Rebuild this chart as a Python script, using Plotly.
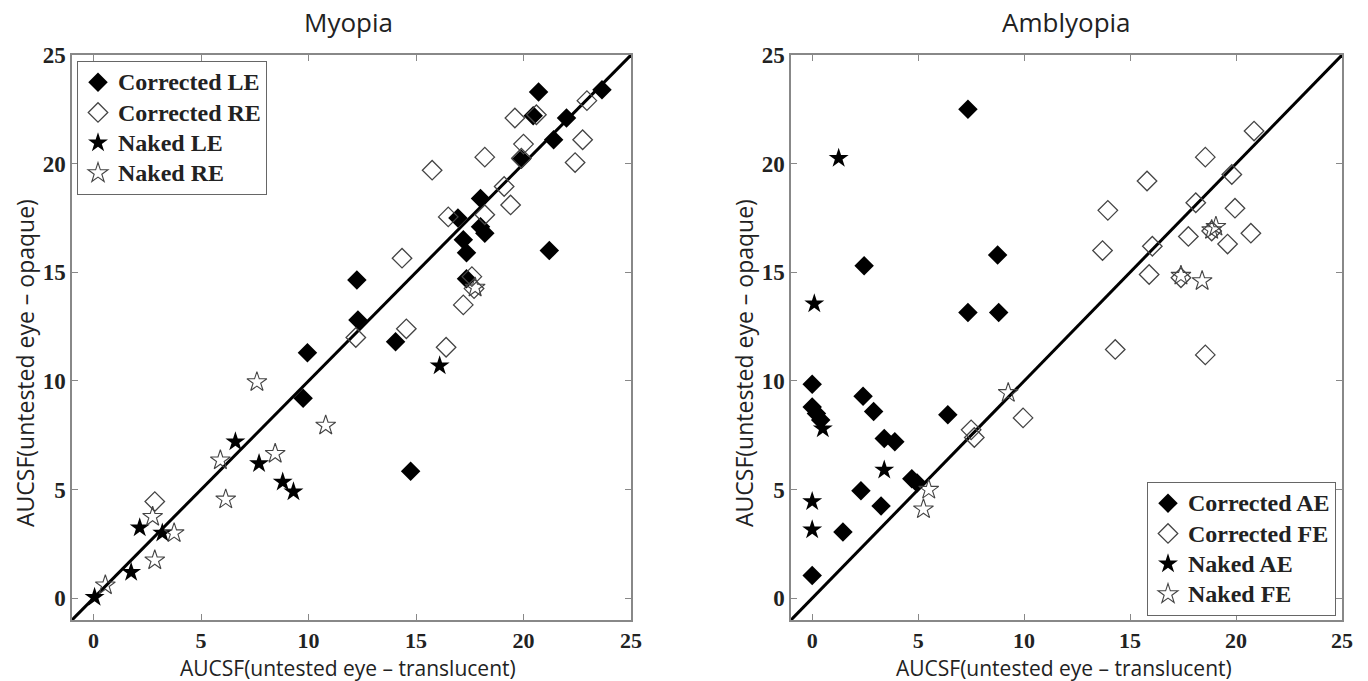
import plotly.graph_objects as go

# ---------------- Myopia (left) ----------------
my_corr_le_x = [20.7, 23.65, 20.45, 22.0, 21.4, 19.9, 18.0, 16.95, 18.0, 18.2, 17.2, 17.35, 21.2, 17.35, 12.25, 12.3, 9.95, 9.75, 14.05, 14.75]
my_corr_le_y = [23.3, 23.4, 22.2, 22.1, 21.1, 20.2, 18.4, 17.5, 17.1, 16.8, 16.5, 15.9, 16.0, 14.7, 14.65, 12.8, 11.3, 9.2, 11.8, 5.85]

my_corr_re_x = [22.95, 19.6, 20.6, 22.75, 22.4, 20.0, 18.2, 15.75, 19.9, 19.1, 19.4, 16.5, 18.2, 14.35, 17.6, 17.7, 17.2, 14.55, 12.2, 16.4, 2.85]
my_corr_re_y = [22.9, 22.1, 22.25, 21.1, 20.05, 20.9, 20.3, 19.7, 20.25, 18.95, 18.1, 17.55, 17.65, 15.65, 14.8, 14.25, 13.5, 12.4, 12.0, 11.55, 4.45]

my_naked_le_x = [0.05, 1.75, 2.15, 3.2, 6.6, 7.7, 8.8, 9.3, 16.1]
my_naked_le_y = [0.05, 1.2, 3.25, 3.0, 7.2, 6.2, 5.35, 4.9, 10.7]

my_naked_re_x = [0.55, 2.75, 2.85, 3.75, 5.9, 6.15, 8.45, 10.8, 7.6, 17.75]
my_naked_re_y = [0.6, 3.75, 1.75, 3.0, 6.35, 4.55, 6.65, 7.95, 9.95, 14.3]

# ---------------- Amblyopia (right) ----------------
am_corr_ae_x = [7.35, 2.45, 8.75, 7.35, 8.8, 0.0, 0.0, 0.2, 0.4, 2.4, 2.9, 3.4, 3.9, 6.4, 4.7, 4.95, 2.3, 3.25, 1.45, 0.0]
am_corr_ae_y = [22.5, 15.3, 15.8, 13.15, 13.15, 9.85, 8.8, 8.5, 8.2, 9.3, 8.6, 7.35, 7.2, 8.45, 5.5, 5.3, 4.95, 4.25, 3.05, 1.05]

am_corr_fe_x = [20.85, 18.55, 19.8, 15.8, 13.95, 18.1, 19.95, 13.7, 16.05, 17.75, 18.85, 19.6, 20.7, 15.9, 17.4, 14.3, 18.55, 7.5, 7.65, 9.95]
am_corr_fe_y = [21.5, 20.3, 19.5, 19.2, 17.85, 18.2, 17.95, 16.0, 16.2, 16.65, 16.9, 16.3, 16.8, 14.9, 14.75, 11.45, 11.2, 7.75, 7.4, 8.3]

am_naked_ae_x = [1.25, 0.1, 0.5, 3.4, 0.0, 0.0]
am_naked_ae_y = [20.25, 13.55, 7.8, 5.9, 4.45, 3.15]

am_naked_fe_x = [9.25, 5.5, 5.25, 19.05, 18.85, 17.4, 18.4]
am_naked_fe_y = [9.45, 5.0, 4.1, 17.1, 16.95, 14.85, 14.6]

identity = [-1, 25]
tick_vals = [0, 5, 10, 15, 20, 25]
titles = ["Myopia", "Amblyopia"]
x_title = "AUCSF(untested eye \u2013 translucent)"
y_title = "AUCSF(untested eye \u2013 opaque)"

W, H = 1368, 681
SERIF = "Liberation Serif"
SANS = "Open Sans"

fig = go.Figure()

def add_identity(xa, ya):
    fig.add_trace(go.Scatter(x=identity, y=identity, mode="lines",
                             line=dict(color="black", width=3),
                             showlegend=False, hoverinfo="skip",
                             xaxis=xa, yaxis=ya))

def legend_name(s):
    return "<span style='font-size:24px'>" + s + "</span>"

filled_d = dict(symbol="diamond", size=15, color="black", line=dict(width=0))
open_d = dict(symbol="diamond-open", size=15, color="#444444", line=dict(width=1.3, color="#444444"))
filled_s = dict(symbol="star", size=15, color="black", line=dict(width=0))
open_s = dict(symbol="star-open", size=15, color="#444444", line=dict(width=1.1, color="#444444"))

add_identity("x", "y")
for name, xs, ys, mk in [
    ("Corrected LE", my_corr_le_x, my_corr_le_y, filled_d),
    ("Corrected RE", my_corr_re_x, my_corr_re_y, open_d),
    ("Naked LE", my_naked_le_x, my_naked_le_y, filled_s),
    ("Naked RE", my_naked_re_x, my_naked_re_y, open_s),
]:
    fig.add_trace(go.Scatter(x=xs, y=ys, mode="markers", name=legend_name(name), marker=mk,
                             xaxis="x", yaxis="y", legend="legend"))

add_identity("x2", "y2")
for name, xs, ys, mk in [
    ("Corrected AE", am_corr_ae_x, am_corr_ae_y, filled_d),
    ("Corrected FE", am_corr_fe_x, am_corr_fe_y, open_d),
    ("Naked AE", am_naked_ae_x, am_naked_ae_y, filled_s),
    ("Naked FE", am_naked_fe_x, am_naked_fe_y, open_s),
]:
    fig.add_trace(go.Scatter(x=xs, y=ys, mode="markers", name=legend_name(name), marker=mk,
                             xaxis="x2", yaxis="y2", legend="legend2"))

axis_common = dict(range=[-1, 25], tickvals=tick_vals, ticks="inside", ticklen=6,
                   tickcolor="#888888", showline=True, linecolor="#888888", linewidth=1.5,
                   mirror="ticks", showgrid=False, zeroline=False, automargin=False)
x_tickfont = dict(family=SERIF, size=22, color="#222222", weight="bold")
y_tickfont = dict(family=SERIF, size=23, color="#222222", weight="bold")

y_dom = [1 - 620 / H, 1 - 55 / H]
legend_font = dict(family=SERIF, size=21, color="#222222", weight="bold")
fig.update_layout(
    width=W, height=H,
    margin=dict(l=0, r=0, t=0, b=0),
    paper_bgcolor="white", plot_bgcolor="white",
    xaxis=dict(domain=[72 / W, 631 / W], anchor="y", ticklabelstandoff=0,
               tickfont=x_tickfont, **axis_common),
    yaxis=dict(domain=y_dom, anchor="x", tickfont=y_tickfont, **axis_common),
    xaxis2=dict(domain=[791 / W, 1342 / W], anchor="y2", ticklabelstandoff=0,
                tickfont=x_tickfont, **axis_common),
    yaxis2=dict(domain=y_dom, anchor="x2", tickfont=y_tickfont, **axis_common),
    legend=dict(x=77 / W, y=1 - 61 / H, xanchor="left", yanchor="top",
                bordercolor="#666666", borderwidth=1, bgcolor="white",
                font=legend_font, tracegroupgap=0),
    legend2=dict(x=1336 / W, y=1 - 616 / H, xanchor="right", yanchor="bottom",
                 bordercolor="#666666", borderwidth=1, bgcolor="white",
                 font=legend_font, tracegroupgap=0),
)

annos = []
for cx, t in [(348, titles[0]), (1066, titles[1])]:
    annos.append(dict(x=cx / W, y=1 - 22 / H, xref="paper", yref="paper", text=t,
                      showarrow=False, xanchor="center", yanchor="middle",
                      font=dict(family=SANS, size=26, color="#222222")))
for cx in [348, 1064]:
    annos.append(dict(x=cx / W, y=1 - 668 / H, xref="paper", yref="paper", text=x_title,
                      showarrow=False, xanchor="center", yanchor="middle",
                      font=dict(family=SANS, size=21, color="#222222")))
for cx in [25, 744]:
    annos.append(dict(x=cx / W, y=1 - 363 / H, xref="paper", yref="paper", text=y_title,
                      showarrow=False, xanchor="center", yanchor="middle", textangle=-90,
                      font=dict(family=SANS, size=23, color="#222222")))
fig.update_layout(annotations=annos)

fig.write_html("out.html", config={"displayModeBar": False},
               post_script="document.body.style.margin='0px';")
